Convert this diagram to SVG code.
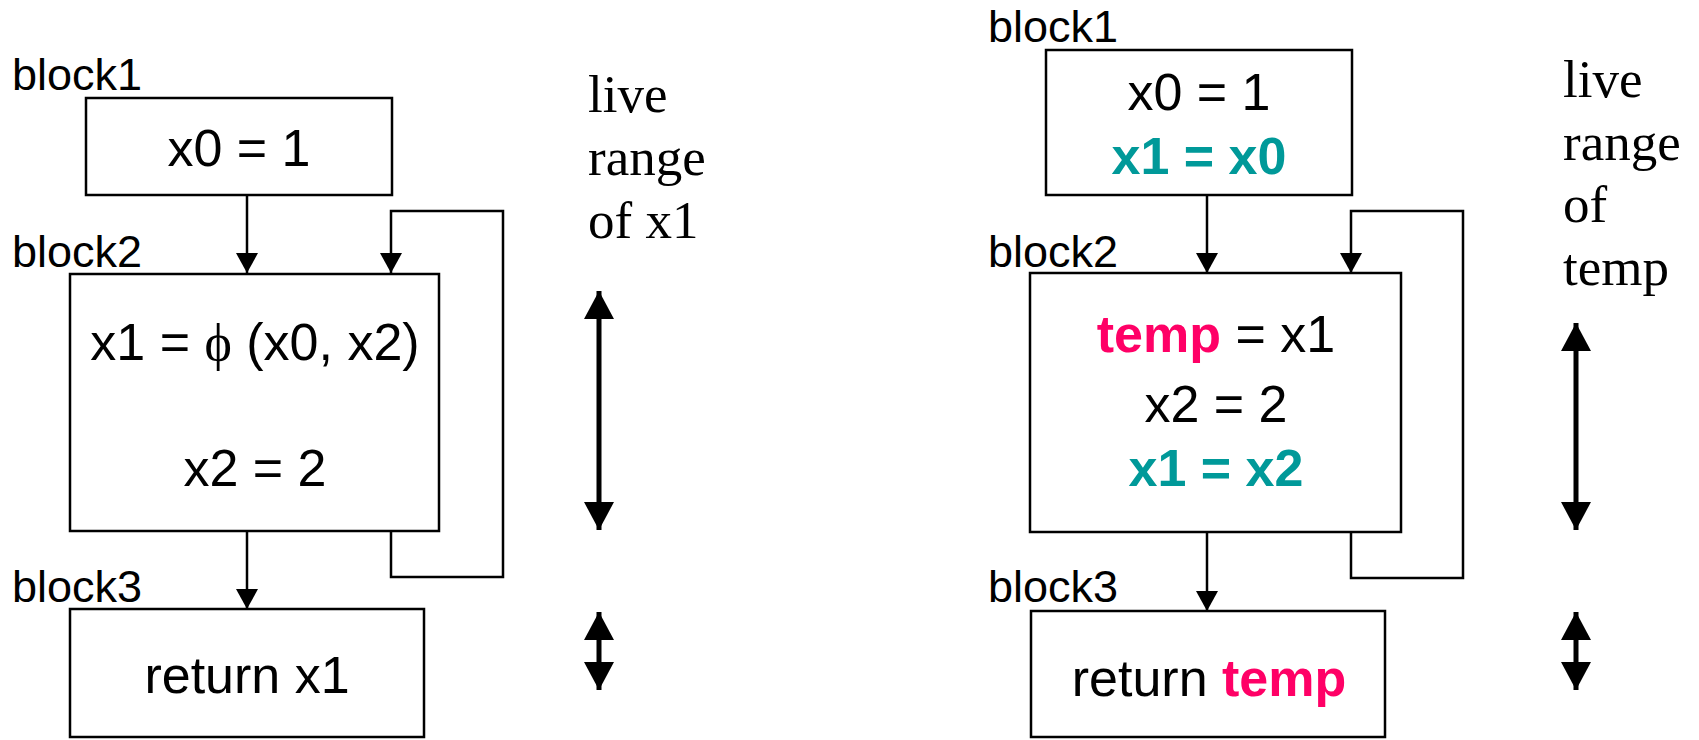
<svg xmlns="http://www.w3.org/2000/svg" width="1699" height="740" viewBox="0 0 1699 740">
<style>
.box{fill:#fff;stroke:#000;stroke-width:2.5}
.t{font-family:"Liberation Sans",Arial,sans-serif;font-size:52px;fill:#000;text-anchor:middle}
.lbl{font-family:"Liberation Sans",Arial,sans-serif;font-size:45px;fill:#000}
.live{font-family:"Liberation Serif","Times New Roman",serif;font-size:53px;fill:#000}
.teal{fill:#009999;font-weight:bold}
.pink{fill:#ff0066;font-weight:bold}
.conn{fill:none;stroke:#000;stroke-width:2.5}
.rng{fill:none;stroke:#000;stroke-width:5}
</style>
<defs>
<marker id="ah" viewBox="0 0 20 22" refX="20" refY="11" markerWidth="20" markerHeight="22" markerUnits="userSpaceOnUse" orient="auto">
<path d="M0,0 L20,11 L0,22 z" fill="#000"/>
</marker>
<marker id="big" viewBox="0 0 28 30" refX="28" refY="15" markerWidth="28" markerHeight="30" markerUnits="userSpaceOnUse" orient="auto-start-reverse">
<path d="M0,0 L28,15 L0,30 z" fill="#000"/>
</marker>
</defs>

<g id="connectors">
<path class="conn" d="M247,195 V273" marker-end="url(#ah)"/>
<path class="conn" d="M391,531 V577 H503 V211 H391 V273" marker-end="url(#ah)"/>
<path class="conn" d="M247,531 V609" marker-end="url(#ah)"/>
<path class="conn" d="M1207,195 V273" marker-end="url(#ah)"/>
<path class="conn" d="M1351,532 V578 H1463 V211 H1351 V273" marker-end="url(#ah)"/>
<path class="conn" d="M1207,532 V611" marker-end="url(#ah)"/>
</g>

<g id="left-block1">
<text class="lbl" x="12" y="90">block1</text>
<rect class="box" x="86" y="98" width="306" height="97"/>
<text class="t" x="239" y="166">x0 = 1</text>
</g>
<g id="left-block2">
<text class="lbl" x="12" y="267">block2</text>
<rect class="box" x="70" y="274" width="369" height="257"/>
<text class="t" x="255" y="360">x1 = <tspan font-family="Liberation Serif,serif">ϕ</tspan> (x0, x2)</text>
<text class="t" x="255" y="486">x2 = 2</text>
</g>
<g id="left-block3">
<text class="lbl" x="12" y="602">block3</text>
<rect class="box" x="70" y="609" width="354" height="128"/>
<text class="t" x="247" y="693">return x1</text>
</g>
<g id="left-live">
<text class="live" x="588" y="112">live</text>
<text class="live" x="588" y="175">range</text>
<text class="live" x="588" y="238">of x1</text>
<path class="rng" d="M599,291 V530" marker-start="url(#big)" marker-end="url(#big)"/>
<path class="rng" d="M599,612 V690" marker-start="url(#big)" marker-end="url(#big)"/>
</g>

<g id="right-block1">
<text class="lbl" x="988" y="42">block1</text>
<rect class="box" x="1046" y="50" width="306" height="145"/>
<text class="t" x="1199" y="110">x0 = 1</text>
<text class="t teal" x="1199" y="174">x1 = x0</text>
</g>
<g id="right-block2">
<text class="lbl" x="988" y="267">block2</text>
<rect class="box" x="1030" y="273" width="371" height="259"/>
<text class="t" x="1216" y="352"><tspan class="pink">temp</tspan> = x1</text>
<text class="t" x="1216" y="422">x2 = 2</text>
<text class="t teal" x="1216" y="486">x1 = x2</text>
</g>
<g id="right-block3">
<text class="lbl" x="988" y="602">block3</text>
<rect class="box" x="1031" y="611" width="354" height="126"/>
<text class="t" x="1209" y="696">return <tspan class="pink">temp</tspan></text>
</g>
<g id="right-live">
<text class="live" x="1563" y="97">live</text>
<text class="live" x="1563" y="160">range</text>
<text class="live" x="1563" y="222">of</text>
<text class="live" x="1563" y="285">temp</text>
<path class="rng" d="M1576,323 V530" marker-start="url(#big)" marker-end="url(#big)"/>
<path class="rng" d="M1576,612 V690" marker-start="url(#big)" marker-end="url(#big)"/>
</g>
</svg>
